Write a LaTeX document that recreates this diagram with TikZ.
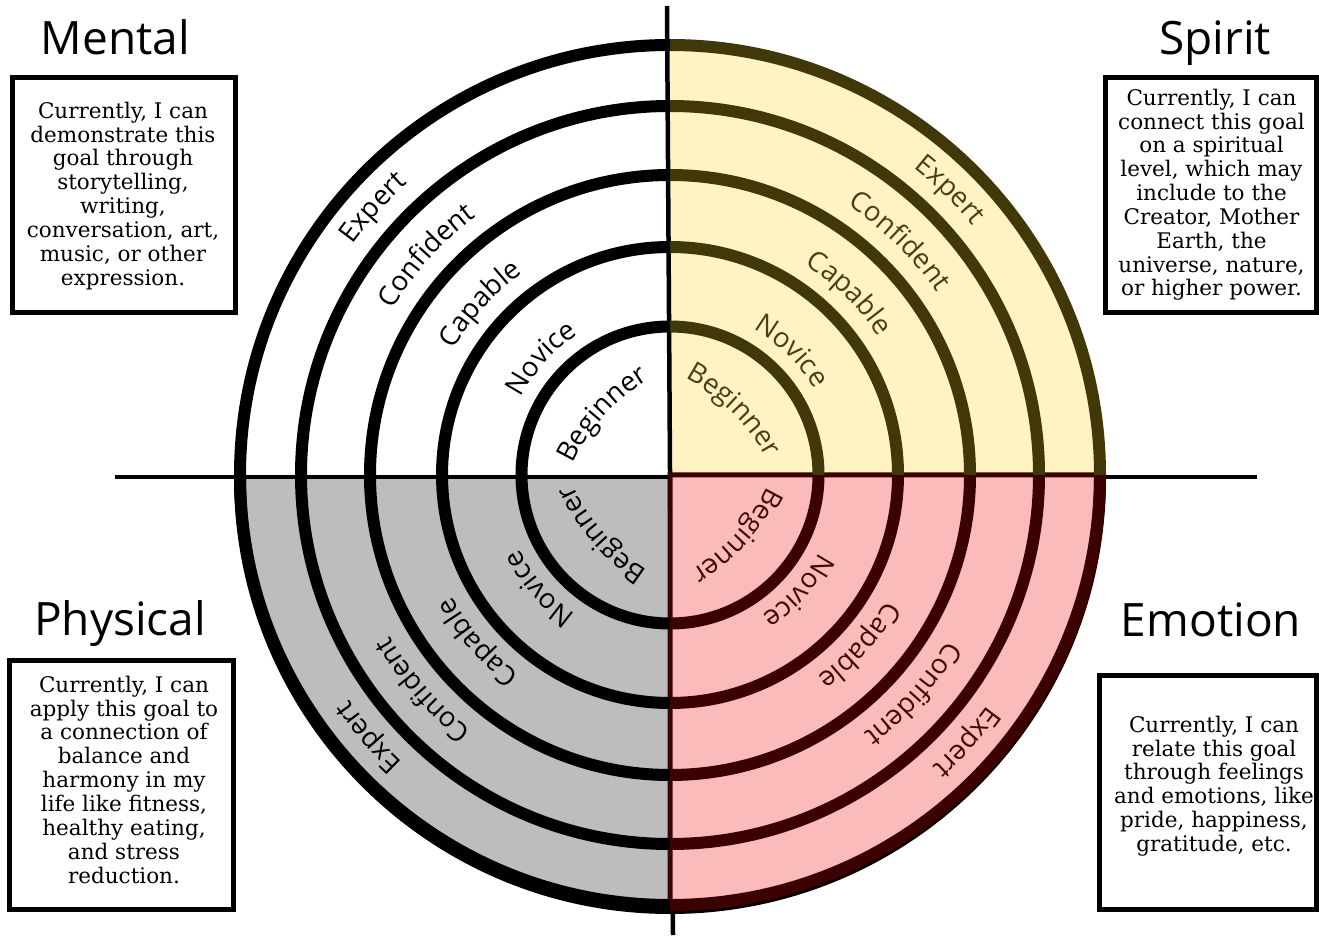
\documentclass[tikz,border=0pt]{standalone}
\usepackage{fontspec}
\setmainfont{DejaVu Serif}
\newfontfamily\titlefont{Open Sans}
\newfontfamily\lblfontfam{Open Sans}
\usetikzlibrary{decorations.text}
\definecolor{yelfill}{HTML}{FFF3C4}
\definecolor{olivering}{HTML}{413809}
\definecolor{pinkfill}{HTML}{FBBBBB}
\definecolor{maroonring}{HTML}{3B0000}
\definecolor{grayfill}{HTML}{BDBDBD}
\definecolor{olivetext}{HTML}{4A3F12}
\definecolor{maroontext}{HTML}{4A0606}
\newcommand\lbl{\lblfontfam\fontsize{27.5}{30}\selectfont}
\begin{document}
\begin{tikzpicture}[x=1pt,y=1pt,
  ring/.style={line width=12pt},
  axisline/.style={line width=4.5pt, black},
  box/.style={draw=black, line width=5pt, inner sep=0pt},
  boxtext/.style={font=\fontsize{21.5}{23.85}\selectfont, align=center, inner sep=0pt, anchor=north},
  title/.style={font=\titlefont\fontsize{46}{50}\selectfont, anchor=base, inner sep=0pt}]
\useasboundingbox (0,0) rectangle (1319,938);
\coordinate (C) at (670,463);
\coordinate (C2) at (670,460);
% quadrant fills
\fill[yelfill] (C) -- ([shift={(0:430pt)}]C) arc[start angle=0,end angle=90,radius=430pt] -- cycle;
\fill[grayfill] (C) -- ([shift={(180:430pt)}]C) arc[start angle=180,end angle=270,radius=430pt] -- cycle;
% axes
\coordinate (hl) at (115,461);
\coordinate (hr) at (1257,461);
\coordinate (vt) at (667,932);
\coordinate (vb) at (673,3);
\draw[axisline] (hl) -- (hr);
\draw[axisline] (vt) -- (vb);
% pink quadrant
\filldraw[fill=pinkfill, draw=maroonring, line width=5pt] (C) -- ([shift={(270:430pt)}]C) arc[start angle=270,end angle=360,radius=430pt] -- cycle;
% shifted black outer edge (lower half)
\draw[ring, black] ([shift={(180:430pt)}]C2) arc[start angle=180,end angle=360,radius=430pt];
% rings
\foreach \r in {148.5,228,300,369,430} {
  \draw[ring, olivering] ([shift={(0:\r pt)}]C) arc[start angle=0,end angle=90,radius=\r pt];
  \draw[ring, black] ([shift={(90:\r pt)}]C) arc[start angle=90,end angle=180,radius=\r pt];
  \draw[ring, black] ([shift={(180:\r pt)}]C) arc[start angle=180,end angle=270,radius=\r pt];
  \draw[ring, maroonring] ([shift={(270:\r pt)}]C) arc[start angle=270,end angle=360,radius=\r pt];
}
% ring labels
\foreach \a/\col in {138/black, 45.5/olivetext, 221/black, 318/maroontext} {
  \foreach \r/\rho/\t in {392/392/Expert, 323/323/Confident, 250/250/Capable, 168/168/Novice, 88/200/Beginner} {
    \path[decorate, decoration={text along path, text/.expanded={|\noexpand\lbl|\t}, text color=\col, text align=center}]
      ([shift={(\a:\r-\rho)}, shift={(\a+75:\rho)}]C) arc[start angle=\a+75, end angle=\a-75, radius=\rho pt];
  }
}
% titles
\node[title] (mental) at (115.5,883) {Mental};
\node[title] (spirit) at (1215,883) {Spirit};
\node[title] (physical) at (120,303) {Physical};
\node[title] (emotion) at (1211,302) {Emotion};
% boxes
\node[box, minimum width=223pt, minimum height=235pt] (mbox) at (124,743) {};
\node[box, minimum width=210.5pt, minimum height=235pt] (sbox) at (1210.75,743) {};
\node[box, minimum width=223.7pt, minimum height=248.7pt] (pbox) at (121.7,153.2) {};
\node[box, minimum width=216.5pt, minimum height=234pt] (ebox) at (1207.75,145.8) {};
% box texts
\node[boxtext] (mtext) at (123,836.7) {\strut Currently, I can\\demonstrate this\\goal through\\storytelling,\\writing,\\conversation, art,\\music, or other\\expression.\strut};
\node[boxtext] (stext) at (1211.5,849.7) {\strut Currently, I can\\connect this goal\\on a spiritual\\level, which may\\include to the\\Creator, Mother\\Earth, the\\universe, nature,\\or higher power.\strut};
\node[boxtext] (ptext) at (124,262.7) {\strut Currently, I can\\apply this goal to\\a connection of\\balance and\\harmony in my\\life like fitness,\\healthy eating,\\and stress\\reduction.\strut};
\node[boxtext] (etext) at (1214,222.7) {\strut Currently, I can\\relate this goal\\through feelings\\and emotions, like\\pride, happiness,\\gratitude, etc.\strut};
\end{tikzpicture}
\end{document}
